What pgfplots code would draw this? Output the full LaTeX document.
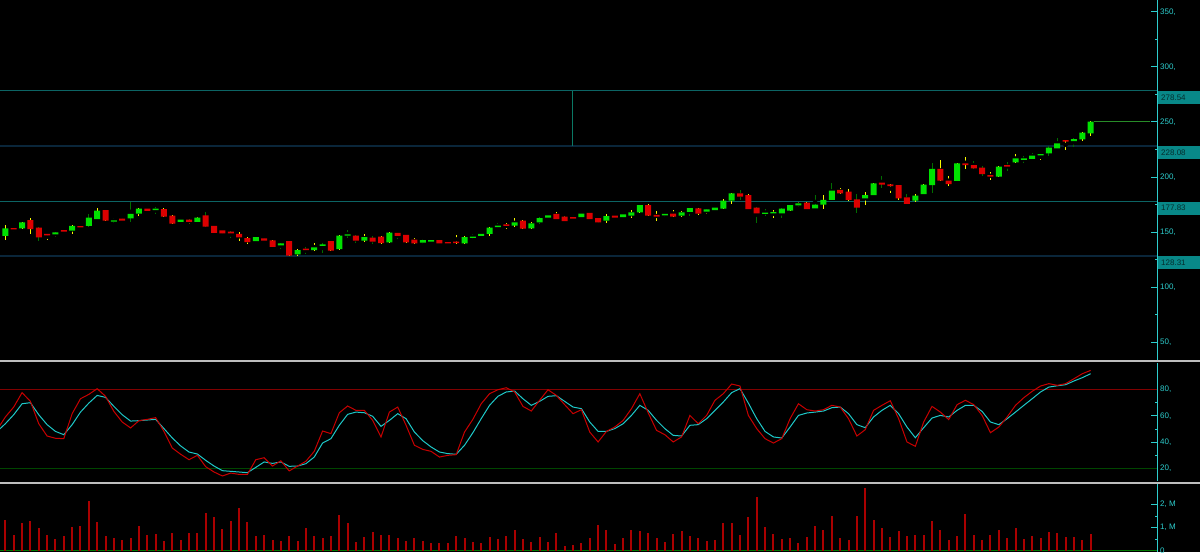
\documentclass[border=0pt]{standalone}
\usepackage{pgfplots}
\pgfplotsset{compat=1.18}
\usepackage{pgfplotstable}
\usepackage{fontspec}
\setmainfont{Liberation Sans}
\definecolor{axc}{RGB}{45,205,205}
\definecolor{upc}{RGB}{0,225,0}
\definecolor{dnc}{RGB}{220,0,0}
\definecolor{wky}{RGB}{250,250,0}
\definecolor{wkg}{RGB}{0,110,0}
\definecolor{lvlA}{RGB}{12,100,100}
\definecolor{lvlB}{RGB}{10,38,58}
\definecolor{boxc}{RGB}{8,136,136}
\definecolor{boxt}{RGB}{5,45,45}
\definecolor{kc}{RGB}{200,0,0}
\definecolor{dc}{RGB}{30,200,200}
\definecolor{volc}{RGB}{170,0,0}
\definecolor{sepc}{RGB}{190,190,190}
\definecolor{vlc}{RGB}{10,120,100}
\definecolor{lastc}{RGB}{40,140,40}

\pgfplotstableread{
i o h l c w
0 146.4 156.4 142.7 153.3 0
1 153.6 153.6 150.3 152.4 1
2 153.3 159.0 153.0 158.8 0
3 160.9 162.4 148.2 152.7 0
4 154.0 154.2 141.8 145.2 1
5 148.2 148.2 142.7 147.0 0
6 147.9 150.0 145.4 149.7 0
7 151.8 152.0 148.8 150.3 1
8 151.2 156.0 148.5 155.5 0
9 155.3 155.6 151.5 154.2 0
10 155.5 166.7 154.2 163.0 1
11 161.8 171.8 161.8 169.4 0
12 170.0 170.0 160.0 160.3 0
13 159.4 162.7 158.5 160.5 1
14 162.1 162.5 159.1 160.3 0
15 162.4 177.3 159.4 166.4 1
16 166.7 171.5 164.8 171.2 0
17 171.2 173.0 169.0 169.1 0
18 170.0 172.7 166.4 171.2 1
19 170.9 171.5 163.5 163.9 0
20 164.8 165.5 157.0 157.6 0
21 159.1 161.5 158.8 161.2 0
22 161.2 161.5 157.6 159.1 0
23 159.1 163.3 158.8 163.0 0
24 165.2 168.2 154.5 154.8 1
25 155.5 155.8 148.8 149.1 0
26 151.5 151.8 148.5 148.8 0
27 150.3 150.9 144.2 148.8 1
28 148.2 150.0 142.1 145.2 0
29 144.5 145.8 139.1 140.9 0
30 141.8 145.8 141.5 145.4 0
31 144.2 144.5 140.6 142.1 0
32 142.4 142.7 136.0 136.4 0
33 137.9 140.3 134.3 139.7 1
34 141.8 142.1 128.2 128.5 0
35 129.7 134.5 128.5 133.6 0
36 134.8 136.0 130.0 133.6 1
37 133.6 139.7 133.0 136.0 0
38 137.3 139.7 131.2 138.8 1
39 141.8 142.1 132.7 133.0 0
40 134.5 147.0 134.0 146.7 0
41 146.7 151.8 144.2 147.9 1
42 146.7 147.0 139.7 142.1 1
43 142.1 148.2 140.6 145.4 0
44 144.8 146.4 138.8 141.2 1
45 145.8 146.0 139.0 140.0 0
46 140.6 149.7 139.7 149.4 0
47 149.1 149.4 144.0 146.4 1
48 147.3 147.6 140.3 140.6 0
49 143.0 144.2 139.4 139.7 0
50 140.3 143.6 139.1 142.7 1
51 141.2 143.6 141.0 142.7 0
52 142.7 143.0 138.8 139.7 0
53 140.9 141.5 139.4 139.7 0
54 140.9 147.3 139.4 140.3 0
55 139.7 146.4 139.4 145.4 0
56 144.8 148.2 143.3 145.8 1
57 146.4 148.5 146.0 148.2 0
58 148.2 154.8 146.7 153.9 0
59 154.5 157.9 153.3 155.8 1
60 157.0 158.2 152.7 155.5 0
61 155.8 162.4 154.2 158.8 0
62 160.3 160.5 152.7 153.0 0
63 153.3 159.4 152.4 157.9 0
64 158.8 164.0 157.0 162.7 1
65 163.0 165.5 162.7 165.2 0
66 166.4 168.5 161.5 161.8 0
67 163.9 164.5 159.7 160.0 0
68 163.6 165.2 161.8 162.1 1
69 163.6 167.6 163.3 166.7 0
70 167.3 167.6 161.5 161.8 0
71 162.7 163.0 157.9 158.8 1
72 160.3 166.4 158.2 164.5 0
73 164.8 165.2 162.7 163.0 0
74 163.6 166.7 162.7 166.1 1
75 164.8 170.0 162.4 167.9 0
76 167.9 174.8 167.0 174.5 0
77 174.5 175.5 164.5 164.8 0
78 165.5 168.8 160.3 163.9 0
79 165.5 167.6 163.9 166.1 1
80 166.7 170.0 163.6 163.9 0
81 164.8 169.4 163.3 167.9 0
82 168.2 172.1 164.8 171.8 1
83 171.5 171.8 165.5 166.7 0
84 168.5 171.2 166.4 170.6 0
85 170.0 172.4 169.7 172.1 0
86 171.2 180.0 170.6 178.5 0
87 178.5 185.5 175.2 185.2 0
88 185.2 188.2 179.1 182.1 1
89 183.6 184.2 170.6 170.9 0
90 172.1 172.7 158.5 167.0 1
91 166.4 170.6 164.8 167.6 1
92 167.0 170.0 163.0 167.9 0
93 167.0 171.5 162.4 171.2 1
94 169.4 175.0 169.0 174.5 0
95 174.2 177.3 172.4 176.0 0
96 176.7 177.6 170.6 170.9 0
97 171.5 183.3 171.5 174.8 1
98 174.8 183.6 170.9 179.1 0
99 179.1 194.8 179.0 187.6 1
100 188.2 189.7 184.8 185.2 0
101 186.7 189.1 178.2 179.1 0
102 179.7 184.5 167.6 172.1 1
103 180.6 186.7 174.5 183.6 0
104 183.6 194.5 183.3 194.2 0
105 194.8 200.9 190.3 193.0 1
106 193.3 193.6 185.2 191.8 0
107 192.7 193.0 179.1 180.6 0
108 181.5 184.5 175.2 175.5 1
109 178.5 184.2 177.6 183.0 0
110 184.5 193.3 184.2 193.0 0
111 192.7 212.4 185.8 207.3 1
112 207.3 215.5 196.4 196.7 0
113 196.7 201.2 192.1 193.6 0
114 196.4 212.7 196.0 212.4 0
115 212.4 218.5 207.3 210.9 0
116 210.9 214.8 207.0 207.9 1
117 208.5 210.3 200.9 202.7 1
118 201.8 204.8 197.3 200.3 0
119 200.3 209.7 200.0 209.4 0
120 210.9 213.3 205.8 209.4 1
121 213.3 220.6 213.0 217.0 0
122 215.5 219.4 212.4 217.0 1
123 216.4 222.1 216.0 219.4 1
124 219.7 221.0 215.5 220.6 0
125 221.5 228.2 219.4 226.7 1
126 226.1 235.2 226.0 230.6 1
127 233.6 233.9 224.5 232.1 0
128 232.7 235.2 227.6 234.5 1
129 234.2 240.6 233.0 240.3 0
130 239.7 250.6 237.3 250.3 0
}\candles

\pgfplotstableread{
i k d
-1 49.3 48.1
0 59.1 54.0
1 66.6 60.8
2 77.5 69.1
3 70.9 69.9
4 54.0 60.8
5 44.7 53.3
6 43.0 48.2
7 42.7 45.7
8 61.6 53.3
9 72.9 62.8
10 76.2 69.6
11 80.5 75.4
12 74.7 73.9
13 63.3 67.1
14 55.3 60.8
15 50.8 56.0
16 56.3 56.3
17 57.3 56.8
18 58.6 57.3
19 48.2 50.3
20 35.6 43.2
21 30.9 37.2
22 26.8 32.6
23 30.1 31.1
24 21.5 26.3
25 17.5 22.0
26 14.5 18.5
27 16.7 18.0
28 15.7 17.5
29 15.7 17.0
30 26.8 21.0
31 28.3 25.1
32 22.0 24.0
33 26.0 25.1
34 18.3 21.8
35 22.0 22.0
36 25.6 23.8
37 33.1 28.8
38 48.5 39.4
39 46.5 42.7
40 62.3 52.8
41 67.4 61.1
42 64.1 62.8
43 64.1 62.3
44 56.6 59.6
45 44.0 52.0
46 62.8 56.5
47 66.6 61.6
48 52.8 57.8
49 37.7 47.7
50 34.6 41.2
51 33.1 36.4
52 28.8 32.6
53 30.1 31.4
54 30.6 30.9
55 47.7 37.7
56 57.3 47.2
57 69.1 57.8
58 76.7 67.9
59 79.7 74.7
60 81.2 78.0
61 78.0 78.7
62 67.1 72.9
63 63.6 67.9
64 71.7 70.9
65 79.7 74.7
66 75.4 75.2
67 68.4 70.9
68 61.6 66.6
69 64.6 65.4
70 47.7 55.3
71 40.2 48.2
72 48.2 48.2
73 51.5 50.3
74 56.5 54.0
75 65.4 60.3
76 76.7 67.9
77 62.3 64.1
78 49.0 56.6
79 45.7 50.3
80 40.2 45.2
81 44.0 44.7
82 60.3 52.8
83 54.0 53.3
84 60.3 57.8
85 71.7 64.1
86 76.7 70.4
87 84.0 77.5
88 82.5 80.5
89 60.3 69.6
90 50.3 57.8
91 42.7 48.2
92 39.4 44.0
93 42.7 43.2
94 57.8 51.5
95 69.1 60.3
96 64.6 62.1
97 63.6 62.8
98 64.6 63.6
99 67.9 66.1
100 66.6 66.6
101 57.8 61.6
102 44.7 53.3
103 49.5 51.0
104 64.1 59.1
105 67.9 64.1
106 71.4 67.9
107 57.8 61.6
108 40.2 51.5
109 36.9 43.4
110 55.3 51.0
111 67.1 58.3
112 62.8 60.3
113 57.1 59.1
114 68.4 64.1
115 71.7 67.9
116 68.4 67.9
117 60.3 63.3
118 47.2 55.3
119 51.5 53.3
120 59.1 57.8
121 67.9 62.8
122 73.7 67.9
123 78.5 72.9
124 82.5 78.0
125 84.3 81.7
126 83.0 82.7
127 84.3 83.5
128 88.0 86.3
129 91.8 88.8
130 94.3 91.8
}\stoch

\pgfplotstableread{
i v
0 1.33
1 0.68
2 1.22
3 1.29
4 0.97
5 0.68
6 0.51
7 0.65
8 1.03
9 1.07
10 2.16
11 1.25
12 0.64
13 0.54
14 0.45
15 0.55
16 1.06
17 0.68
18 0.74
19 0.42
20 0.77
21 0.46
22 0.75
23 0.77
24 1.62
25 1.46
26 0.93
27 1.29
28 1.86
29 1.25
30 0.64
31 0.68
32 0.45
33 0.42
34 0.64
35 0.43
36 0.99
37 0.64
38 0.55
39 0.64
40 1.55
41 1.20
42 0.38
43 0.59
44 0.81
45 0.68
46 0.67
47 0.54
48 0.42
49 0.54
50 0.42
51 0.32
52 0.33
53 0.33
54 0.64
55 0.55
56 0.38
57 0.33
58 0.59
59 0.51
60 0.64
61 0.90
62 0.51
63 0.38
64 0.59
65 0.38
66 0.77
67 0.20
68 0.25
69 0.32
70 0.55
71 1.12
72 0.90
73 0.29
74 0.55
75 0.90
76 0.86
77 0.77
78 0.54
79 0.38
80 0.72
81 0.86
82 0.64
83 0.55
84 0.42
85 0.46
86 1.20
87 1.20
88 0.68
89 1.46
90 2.33
91 1.03
92 0.72
93 0.51
94 0.55
95 0.33
96 0.59
97 1.07
98 0.90
99 1.51
100 0.54
101 0.46
102 1.51
103 2.72
104 1.33
105 0.99
106 0.59
107 0.86
108 0.64
109 0.68
110 0.68
111 1.29
112 0.90
113 0.46
114 0.64
115 1.59
116 0.68
117 0.46
118 0.68
119 0.90
120 0.55
121 0.99
122 0.51
123 0.64
124 0.55
125 0.81
126 0.77
127 0.59
128 0.59
129 0.46
130 0.72
}\vol

\pgfplotsset{
  panel/.style={
    scale only axis, width=1157pt,
    xmin=-0.642, xmax=137.95,
    axis x line=none, axis y line*=right,
    y axis line style={axc, line width=1pt},
    ytick style={axc, line width=1pt},
    tick align=inside,
    major tick length=6pt, minor tick length=2pt,
    yticklabel style={text=axc, font=\fontsize{8}{9}\selectfont, anchor=west, inner sep=0pt, xshift=3pt},
    anchor=south west,
  },
}

\begin{document}
\begin{tikzpicture}
\useasboundingbox (0,0) rectangle (1200pt,552pt);
\fill[black] (0,0) rectangle (1200pt,552pt);

% ---------------- price panel: lines and wicks ----------------
\begin{axis}[panel, at={(0pt,192pt)}, height=360pt,
  ymin=33.64, ymax=360.91,
  ytick={50,100,150,200,250,300,350},
  yticklabels={{50,},{100,},{150,},{200,},{250,},{300,},{350,}},
  minor y tick num=1]
  \draw[lvlA, line width=1pt] (axis cs:-0.642,278.54) -- (axis cs:137.95,278.54);
  \draw[lvlB, line width=1.5pt] (axis cs:-0.642,228.08) -- (axis cs:137.95,228.08);
  \draw[lvlA, line width=1pt] (axis cs:-0.642,177.83) -- (axis cs:137.95,177.83);
  \draw[lvlB, line width=1.5pt] (axis cs:-0.642,128.31) -- (axis cs:137.95,128.31);
  \draw[vlc, line width=1pt] (axis cs:67.9,278.54) -- (axis cs:67.9,228.08);
  \draw[lastc, line width=1pt] (axis cs:130.4,250.3) -- (axis cs:137.1,250.3);
  % wicks
  \addplot[only marks, mark=none, restrict y to domain=0:1000,
    error bars/.cd, y dir=both, y explicit, error mark=none,
    error bar style={line width=1pt, draw=wky}]
    table[x=i, y expr={\thisrow{w}<0.5 ? (\thisrow{h}+\thisrow{l})/2 : -1000},
      y error expr={(\thisrow{h}-\thisrow{l})/2}] {\candles};
  \addplot[only marks, mark=none, restrict y to domain=0:1000,
    error bars/.cd, y dir=both, y explicit, error mark=none,
    error bar style={line width=1pt, draw=wkg}]
    table[x=i, y expr={\thisrow{w}>0.5 ? (\thisrow{h}+\thisrow{l})/2 : -1000},
      y error expr={(\thisrow{h}-\thisrow{l})/2}] {\candles};
  \coordinate (L1) at (axis cs:137.95,278.54);
  \coordinate (L2) at (axis cs:137.95,228.08);
  \coordinate (L3) at (axis cs:137.95,177.83);
  \coordinate (L4) at (axis cs:137.95,128.31);
\end{axis}

% ---------------- price panel: candle bodies ----------------
\begin{axis}[scale only axis, width=1157pt, height=360pt, at={(0pt,192pt)}, anchor=south west,
  xmin=-0.642, xmax=137.95, ymin=33.64, ymax=360.91, hide axis,
  ybar stacked, bar width=6pt]
  \addplot[fill=none, draw=none]
    table[x=i, y expr={(\thisrow{o}+\thisrow{c})/2 - max(abs(\thisrow{c}-\thisrow{o}),1.2)/2}] {\candles};
  \addplot[fill=upc, draw=none]
    table[x=i, y expr={\thisrow{c}>=\thisrow{o} ? max(\thisrow{c}-\thisrow{o},1.2) : 0}] {\candles};
  \addplot[fill=dnc, draw=none]
    table[x=i, y expr={\thisrow{c}<\thisrow{o} ? max(\thisrow{o}-\thisrow{c},1.2) : 0}] {\candles};
\end{axis}

\foreach \n/\t in {L1/278.54,L2/228.08,L3/177.83,L4/128.31}{
  \node[fill=boxc, anchor=north west, xshift=1pt, minimum height=13pt, text width=40pt,
    inner xsep=3pt, inner ysep=0pt, align=left, text=boxt, font=\fontsize{8}{9}\selectfont] at (\n) {\t};
}

% ---------------- stochastic panel ----------------
\begin{axis}[panel, at={(0pt,71pt)}, height=118pt,
  ymin=10.7, ymax=99.9,
  ytick={20,40,60,80},
  yticklabels={{20,},{40,},{60,},{80,}},
  minor y tick num=1]
  \draw[color={rgb,255:red,128;green,0;blue,0}, line width=1pt] (axis cs:-0.642,80) -- (axis cs:137.95,80);
  \draw[color={rgb,255:red,0;green,70;blue,0}, line width=1.2pt] (axis cs:-0.642,20) -- (axis cs:137.95,20);
  \addplot[dc, line width=1pt, mark=none] table[x=i, y=d] {\stoch};
  \addplot[kc, line width=1pt, mark=none] table[x=i, y=k] {\stoch};
\end{axis}

% ---------------- volume panel ----------------
\begin{axis}[panel, at={(0pt,0pt)}, height=68pt,
  ymin=-0.057, ymax=2.9,
  ytick={0,1,2},
  yticklabels={0,{1, M},{2, M}},
  minor y tick num=1]
  \draw[color={rgb,255:red,0;green,120;blue,0}, line width=1.5pt] (axis cs:-0.642,0) -- (axis cs:137.95,0);
  \addplot[ycomb, volc, line width=2pt, mark=none] table[x=i, y=v] {\vol};
\end{axis}

% separators
\draw[sepc, line width=2pt] (0,190.5pt) -- (1200pt,190.5pt);
\draw[sepc, line width=2pt] (0,69.5pt) -- (1200pt,69.5pt);
\end{tikzpicture}
\end{document}
